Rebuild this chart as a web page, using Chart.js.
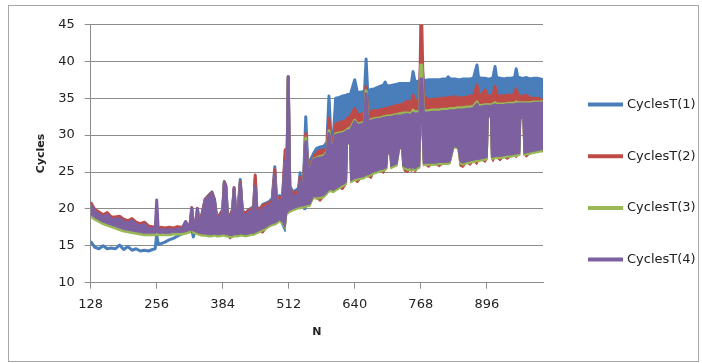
<!DOCTYPE html>
<html>
<head>
<meta charset="utf-8">
<title>CyclesT</title>
<script src="https://cdn.jsdelivr.net/npm/chart.js@4.4.1/dist/chart.umd.min.js"></script>
<style>
  html, body { margin: 0; padding: 0; background: #fff; }
  #wrap { position: relative; width: 702px; height: 363px; }
</style>
</head>
<body>
<div id="wrap"><canvas id="chart" width="702" height="363"></canvas></div>
<script>
/* === data === */
// N positions (denser around spikes and gaps)
const nValues = [
  128, 136, 144, 152, 160, 168, 176, 184, 192, 200,
  208, 216, 224, 232, 240, 248, 253, 256, 259, 264,
  272, 280, 288, 296, 304, 312, 320,
  324, 327, 331, 335, 338, 344, 350, 356, 363, 368,
  372, 378, 384, 387, 390, 393, 398, 403, 406, 409,
  414, 418, 422, 428, 434, 440, 444, 447, 450, 456,
  462, 468, 474, 480, 485, 488, 494, 500, 505, 508,
  511, 514, 520, 527, 531, 534, 537, 541, 545, 549,
  553, 560, 566, 573, 580, 586, 590, 594, 599, 603,
  610, 617, 624, 626, 630, 632, 640, 645, 652, 659, 662,
  665, 672, 676, 682, 689, 696, 699, 702, 704, 708, 710,
  715, 722, 727, 731, 733, 736, 743, 747, 750, 753, 757, 762,
  766, 768, 770, 773, 776, 783, 790, 797, 804, 811, 818,
  821, 825, 832, 835, 840, 844, 850, 857, 864, 870,
  877, 880, 886, 893, 897, 899, 903, 905, 908, 912, 915,
  922, 929, 936, 943, 950, 953, 956, 960, 962, 966, 968,
  973, 980, 987, 994, 1000, 1005
];

const seriesNames = ['CyclesT(1)', 'CyclesT(2)', 'CyclesT(3)', 'CyclesT(4)'];
const xTicks = [128, 256, 384, 512, 640, 768, 896];

// each series is shown as a band: upper edge (High) and lower edge (Low)
const t1High = [
  15.6, 14.8, 14.6, 15.0, 14.6, 14.7, 14.6, 15.1, 14.5, 14.9,
  14.4, 14.6, 14.3, 14.4, 14.3, 14.5, 14.6, 16.5, 15.2, 15.3,
  15.5, 15.8, 16.0, 16.3, 16.6, 16.8, 17.0,
  17.1, 16.2, 17.2, 17.3, 17.4, 19.4, 21.3, 21.8, 22.3, 21.3,
  19.0, 19.2, 19.9, 23.7, 23.2, 19.4, 19.1, 19.9, 22.9, 19.6,
  20.0, 24.0, 19.8, 19.4, 19.9, 20.1, 20.4, 24.2, 20.2, 20.0,
  20.6, 20.8, 21.0, 21.4, 25.7, 21.5, 21.8, 21.6, 27.0, 22.6,
  37.9, 23.1, 22.3, 22.6, 22.8, 24.9, 23.3, 24.5, 32.5, 26.0,
  26.5, 27.5, 28.2, 28.4, 28.5, 29.0, 35.3, 29.5, 30.5, 35.0,
  35.1, 35.3, 35.4, 35.5, 35.5, 35.6, 37.5, 35.8, 35.8, 36.0, 40.3,
  36.0, 36.2, 36.2, 36.4, 36.6, 36.8, 37.2, 36.7, 36.7, 36.7, 36.7,
  36.8, 36.9, 37.0, 37.0, 37.0, 37.0, 37.0, 37.0, 37.1, 38.6, 37.2, 37.3,
  37.3, 40.0, 40.0, 37.4, 37.4, 37.5, 37.5, 37.5, 37.5, 37.6, 37.6,
  37.9, 37.6, 37.6, 37.6, 37.5, 37.5, 37.6, 37.6, 37.6, 37.7,
  39.5, 37.8, 37.7, 37.7, 37.6, 37.6, 37.6, 37.7, 37.8, 39.3, 37.8,
  37.7, 37.6, 37.7, 37.7, 37.8, 39.0, 37.8, 37.8, 37.7, 37.7, 37.7,
  37.8, 37.6, 37.7, 37.7, 37.6, 37.5
];
const t1Low = [
  null, null, null, null, null, null, null, null, null, null,
  null, null, null, null, null, null, null, null, null, null,
  null, null, null, null, null, null, null,
  null, null, null, null, null, 16.9, 16.9, 16.8, 16.8, 16.9,
  16.8, 16.8, 16.9, 16.9, 16.8, 16.8, 16.7, 16.7, 16.8, 16.8,
  16.8, 16.9, 16.9, 16.8, 16.9, 17.0, 17.0, 17.1, 17.2, 17.4,
  17.6, 17.8, 18.1, 18.3, 18.4, 18.5, 18.8, 17.6, 16.9, 19.7,
  19.9, 20.1, 20.3, 20.5, 20.6, 20.6, 20.7, 19.9, 19.9, 20.9,
  20.9, 22.0, 21.9, 22.0, 22.1, 22.5, 22.9, 22.9, 22.8, 23.0,
  23.3, 23.6, 23.9, 29.0, 29.0, 24.1, 24.4, 24.5, 24.6, 24.7, 24.9,
  24.9, 25.1, 25.3, 25.4, 25.6, 25.7, 25.8, 25.9, 27.6, 27.6, 26.0,
  26.2, 26.4, 28.3, 28.3, 26.1, 26.0, 25.8, 25.9, 25.7, 25.9, 25.7, 26.0,
  26.1, 31.6, 31.6, 26.4, 26.5, 26.5, 26.5, 26.5, 26.6, 26.6, 26.6,
  26.6, 26.7, 28.6, 28.6, 28.5, 26.7, 26.5, 26.7, 26.8, 26.9,
  27.0, 27.0, 27.1, 27.2, 27.3, 32.6, 32.6, 27.3, 27.3, 27.4, 27.4,
  27.4, 27.5, 27.6, 27.6, 27.7, 27.7, 27.8, 27.8, 32.4, 32.4, 27.8,
  27.9, 28.0, 28.1, 28.2, 28.3, 28.3
];

const t2High = [
  20.9, 19.9, 19.6, 19.2, 19.5, 18.9, 18.9, 19.0, 18.6, 18.4,
  18.7, 18.2, 18.0, 18.2, 17.7, 17.6, 17.5, 17.9, 17.4, 17.5,
  17.4, 17.5, 17.4, 17.6, 17.5, 17.7, 17.6,
  20.2, 17.8, 17.9, 20.1, 18.2, 19.3, 21.3, 21.7, 22.2, 21.2,
  18.9, 19.1, 19.8, 23.6, 23.1, 19.3, 19.0, 19.8, 22.8, 19.5,
  19.9, 23.6, 19.7, 19.3, 19.8, 20.0, 20.3, 24.6, 20.1, 19.9,
  20.5, 20.6, 20.8, 21.1, 25.3, 21.3, 21.6, 21.4, 28.0, 22.4,
  37.9, 22.9, 22.0, 22.3, 22.4, 24.3, 23.0, 24.0, 30.2, 25.5,
  25.8, 26.9, 27.6, 27.9, 27.9, 28.3, 32.3, 28.8, 29.5, 31.5,
  31.7, 31.8, 32.0, 32.3, 32.4, 32.6, 33.6, 32.8, 32.8, 33.0, 36.6,
  33.1, 33.2, 33.3, 33.3, 33.4, 33.5, 33.6, 33.6, 33.7, 33.7, 33.7,
  33.9, 34.0, 34.1, 34.1, 34.2, 34.3, 34.6, 34.3, 34.4, 35.4, 34.6, 34.7,
  34.8, 45.0, 45.0, 34.8, 35.1, 34.8, 34.8, 34.9, 34.9, 35.0, 35.0,
  35.1, 35.0, 35.2, 35.2, 35.0, 35.0, 35.1, 35.1, 35.3, 35.2,
  36.8, 35.4, 35.5, 36.1, 35.4, 35.2, 35.2, 35.3, 35.4, 36.6, 35.4,
  35.3, 35.3, 35.4, 35.4, 35.5, 36.3, 35.5, 35.3, 35.2, 35.2, 35.3,
  35.4, 35.0, 35.0, 35.0, 34.8, 34.8
];
const t2Low = [
  null, null, null, null, null, null, null, null, null, null,
  null, null, null, null, null, null, null, null, null, null,
  null, null, null, null, null, null, null,
  16.9, 16.8, 16.7, 16.6, 16.5, 16.4, 16.4, 16.3, 16.3, 16.4,
  16.3, 16.3, 16.4, 16.4, 16.3, 16.3, 15.9, 16.2, 16.3, 16.3,
  16.3, 16.4, 16.4, 16.3, 16.4, 16.5, 16.5, 16.6, 16.7, 16.9,
  16.7, 17.3, 17.6, 17.8, 17.9, 18.0, 18.3, 18.0, 17.4, 19.2,
  19.4, 19.6, 19.8, 20.0, 20.1, 20.1, 20.2, 20.2, 20.3, 20.4,
  20.4, 21.5, 21.4, 21.0, 21.6, 22.0, 22.4, 22.4, 22.3, 22.5,
  22.8, 22.6, 23.4, 28.8, 28.8, 23.6, 23.9, 23.5, 24.1, 24.2, 24.4,
  24.4, 24.1, 24.8, 24.9, 25.1, 24.8, 25.3, 25.4, 27.4, 27.4, 25.5,
  25.7, 25.9, 28.1, 28.1, 25.9, 25.1, 24.9, 25.4, 25.0, 25.4, 24.9, 25.5,
  25.6, 31.3, 31.3, 25.9, 26.0, 25.6, 26.0, 26.0, 25.7, 26.1, 26.1,
  26.1, 26.2, 28.3, 28.3, 28.2, 25.8, 25.6, 26.2, 25.9, 26.4,
  26.0, 26.5, 26.6, 26.3, 26.8, 32.4, 32.4, 26.8, 26.4, 26.9, 26.9,
  26.5, 27.0, 26.7, 27.1, 27.2, 26.9, 27.3, 27.3, 32.2, 32.2, 27.3,
  27.0, 27.5, 27.6, 27.7, 27.8, 27.8
];

const t3High = [
  19.0, 18.6, 18.3, 18.0, 17.8, 17.6, 17.4, 17.2, 17.0, 16.9,
  16.8, 16.7, 16.6, 16.5, 16.5, 16.5, 16.5, 16.6, 16.5, 16.5,
  16.5, 16.5, 16.6, 16.6, 16.6, 16.7, 16.9,
  19.8, 17.4, 17.5, 19.7, 17.7, 18.7, 20.9, 21.2, 21.8, 20.7,
  18.3, 18.6, 19.2, 23.1, 22.7, 18.7, 18.4, 19.2, 22.3, 18.9,
  19.3, 23.0, 19.1, 18.7, 19.2, 19.4, 19.7, 22.8, 19.5, 19.3,
  19.7, 20.0, 20.1, 20.5, 24.3, 20.7, 20.9, 20.7, 26.3, 21.7,
  37.6, 22.2, 21.3, 21.5, 21.7, 23.6, 22.2, 23.2, 29.6, 24.7,
  25.3, 26.7, 26.9, 27.1, 27.2, 27.7, 30.6, 28.3, 28.9, 30.2,
  30.3, 30.4, 30.6, 30.8, 30.9, 31.0, 32.0, 31.5, 31.6, 31.8, 36.0,
  32.0, 32.1, 32.2, 32.3, 32.3, 32.5, 32.5, 32.6, 32.6, 32.6, 32.6,
  32.7, 32.8, 32.9, 32.9, 33.0, 33.0, 33.0, 32.9, 33.0, 33.4, 33.1, 33.2,
  33.2, 39.5, 39.5, 33.3, 33.3, 33.3, 33.4, 33.4, 33.4, 33.5, 33.5,
  33.5, 33.6, 33.6, 33.6, 33.7, 33.7, 33.7, 33.8, 33.8, 33.9,
  34.5, 34.0, 34.0, 34.1, 34.1, 34.1, 34.1, 34.1, 34.2, 34.4, 34.2,
  34.2, 34.2, 34.3, 34.3, 34.3, 34.5, 34.4, 34.4, 34.4, 34.4, 34.4,
  34.4, 34.4, 34.5, 34.5, 34.5, 34.6
];
const t3Low = [
  null, null, null, null, null, null, null, null, null, null,
  null, null, null, null, null, null, null, null, null, null,
  null, null, null, null, null, null, null,
  16.8, 16.7, 16.6, 16.5, 16.4, 16.3, 16.3, 16.2, 16.2, 16.3,
  16.2, 16.2, 16.3, 16.3, 16.2, 16.2, 16.1, 16.1, 16.2, 16.2,
  16.2, 16.3, 16.3, 16.2, 16.3, 16.4, 16.4, 16.5, 16.6, 16.8,
  17.0, 17.2, 17.5, 17.7, 17.8, 17.9, 18.2, 17.9, 17.3, 19.1,
  19.3, 19.5, 19.7, 19.9, 20.0, 20.0, 20.1, 20.1, 20.2, 20.3,
  20.3, 21.4, 21.3, 21.4, 21.5, 21.9, 22.3, 22.3, 22.2, 22.4,
  22.7, 23.0, 23.3, 28.8, 28.8, 23.5, 23.8, 23.9, 24.0, 24.1, 24.3,
  24.3, 24.5, 24.7, 24.8, 25.0, 25.1, 25.2, 25.3, 27.4, 27.4, 25.4,
  25.6, 25.8, 28.1, 28.1, 25.5, 25.4, 25.2, 25.3, 25.1, 25.3, 25.1, 25.4,
  25.5, 31.2, 31.2, 25.8, 25.9, 25.9, 25.9, 25.9, 26.0, 26.0, 26.0,
  26.0, 26.1, 28.2, 28.2, 28.1, 26.1, 25.9, 26.1, 26.2, 26.3,
  26.4, 26.4, 26.5, 26.6, 26.7, 32.4, 32.4, 26.7, 26.7, 26.8, 26.8,
  26.8, 26.9, 27.0, 27.0, 27.1, 27.1, 27.2, 27.2, 32.2, 32.2, 27.2,
  27.3, 27.4, 27.5, 27.6, 27.7, 27.7
];

const t4High = [
  20.6, 19.6, 19.3, 18.9, 19.2, 18.6, 18.6, 18.7, 18.3, 18.1,
  18.4, 17.9, 17.7, 17.9, 17.4, 17.3, 17.2, 21.2, 17.1, 17.2,
  17.1, 17.2, 17.1, 17.3, 17.2, 18.3, 17.3,
  20.1, 17.6, 17.8, 20.0, 18.0, 19.0, 21.2, 21.5, 22.1, 21.0,
  18.6, 18.9, 19.5, 23.4, 23.0, 19.0, 18.7, 19.5, 22.6, 19.2,
  19.6, 23.3, 19.4, 19.0, 19.5, 19.7, 20.0, 23.0, 19.8, 19.6,
  20.0, 20.3, 20.4, 20.8, 24.5, 21.0, 21.2, 21.0, 26.5, 22.0,
  37.9, 22.5, 21.6, 21.8, 22.0, 23.9, 22.5, 23.5, 29.1, 25.0,
  25.2, 26.6, 26.8, 26.9, 27.0, 27.5, 30.2, 28.2, 28.8, 30.0,
  30.1, 30.2, 30.4, 30.6, 30.6, 30.7, 31.8, 31.3, 31.4, 31.6, 35.6,
  31.8, 31.9, 32.0, 32.1, 32.1, 32.3, 32.3, 32.4, 32.4, 32.4, 32.4,
  32.5, 32.6, 32.6, 32.6, 32.7, 32.7, 32.8, 32.6, 32.7, 33.0, 32.8, 32.9,
  32.9, 37.6, 37.6, 33.0, 33.0, 33.0, 33.1, 33.1, 33.1, 33.2, 33.2,
  33.2, 33.3, 33.3, 33.3, 33.4, 33.4, 33.4, 33.5, 33.5, 33.6,
  34.2, 33.7, 33.8, 33.9, 33.9, 33.9, 33.9, 33.9, 34.0, 34.1, 34.0,
  34.0, 34.0, 34.1, 34.1, 34.1, 34.2, 34.2, 34.2, 34.2, 34.2, 34.2,
  34.2, 34.2, 34.3, 34.3, 34.3, 34.4
];
const t4Low = [
  19.2, 18.8, 18.5, 18.2, 18.0, 17.8, 17.6, 17.4, 17.2, 17.1,
  17.0, 16.9, 16.8, 16.7, 16.7, 16.7, 16.7, 16.8, 16.7, 16.7,
  16.7, 16.7, 16.8, 16.8, 16.8, 16.9, 17.1,
  17.1, 17.0, 16.9, 16.8, 16.7, 16.6, 16.6, 16.5, 16.5, 16.6,
  16.5, 16.5, 16.6, 16.6, 16.5, 16.5, 16.4, 16.4, 16.5, 16.5,
  16.5, 16.6, 16.6, 16.5, 16.6, 16.7, 16.7, 16.8, 16.9, 17.1,
  17.3, 17.5, 17.8, 18.0, 18.1, 18.2, 18.5, 18.2, 17.5, 19.4,
  19.6, 19.8, 20.0, 20.2, 20.3, 20.3, 20.4, 20.4, 20.5, 20.6,
  20.6, 21.7, 21.6, 21.7, 21.8, 22.2, 22.6, 22.6, 22.5, 22.7,
  23.0, 23.3, 23.6, 28.9, 28.9, 23.8, 24.1, 24.2, 24.3, 24.4, 24.6,
  24.6, 24.8, 25.0, 25.1, 25.3, 25.4, 25.5, 25.6, 27.5, 27.5, 25.7,
  25.9, 26.1, 28.2, 28.2, 25.8, 25.7, 25.5, 25.6, 25.4, 25.6, 25.4, 25.7,
  25.8, 31.4, 31.4, 26.1, 26.2, 26.2, 26.2, 26.2, 26.3, 26.3, 26.3,
  26.3, 26.4, 28.4, 28.4, 28.3, 26.4, 26.2, 26.4, 26.5, 26.6,
  26.7, 26.7, 26.8, 26.9, 27.0, 32.5, 32.5, 27.0, 27.0, 27.1, 27.1,
  27.1, 27.2, 27.3, 27.3, 27.4, 27.4, 27.5, 27.5, 32.3, 32.3, 27.5,
  27.6, 27.7, 27.8, 27.9, 28.0, 28.0
];

/* === build chart === */
const colors = ['#4a7ebb', '#be4b48', '#98b954', '#7d60a0'];
const highs = [t1High, t2High, t3High, t4High];
const lows = [t1Low, t2Low, t3Low, t4Low];

highs.concat(lows).forEach((arr, i) => {
  if (arr.length !== nValues.length) {
    throw new Error('series array ' + i + ' has ' + arr.length + ' values, expected ' + nValues.length);
  }
});

const toPoints = arr => arr.map((v, i) => ({ x: nValues[i], y: v }));

const datasets = [];
seriesNames.forEach((name, k) => {
  // last series drawn on top (lower order = drawn later)
  datasets.push({
    label: name,
    data: toPoints(highs[k]),
    borderColor: colors[k],
    backgroundColor: colors[k],
    borderWidth: 3,
    borderJoinStyle: 'round',
    pointRadius: 0,
    fill: false,
    order: 3 - k
  });
  datasets.push({
    label: name + ' low',
    data: toPoints(lows[k]),
    borderColor: colors[k],
    backgroundColor: colors[k],
    borderWidth: 1,
    borderJoinStyle: 'round',
    pointRadius: 0,
    fill: '-1',
    order: 3 - k
  });
});

const axisFont = { family: 'DejaVu Sans', size: 13 };
const titleFont = { family: 'DejaVu Sans', size: 11, weight: 'bold' };
const lineGray = '#8c8c8c';
const textColor = '#222';

// outer frame like the spreadsheet chart border
const frame = {
  id: 'frame',
  beforeDraw(chart) {
    const ctx = chart.ctx;
    ctx.save();
    ctx.fillStyle = '#fff';
    ctx.fillRect(0, 0, chart.width, chart.height);
    ctx.strokeStyle = '#a6a6a6';
    ctx.lineWidth = 1;
    ctx.strokeRect(8.5, 5.5, 690, 356);
    ctx.restore();
  }
};

// legend on the right, one entry per series
const sideLegend = {
  id: 'sideLegend',
  afterDraw(chart) {
    const ctx = chart.ctx;
    ctx.save();
    ctx.font = '13px "DejaVu Sans"';
    ctx.textBaseline = 'middle';
    ctx.textAlign = 'left';
    seriesNames.forEach((name, k) => {
      const y = 104.5 + k * 51.7;
      ctx.strokeStyle = colors[k];
      ctx.lineWidth = 4;
      ctx.beginPath();
      ctx.moveTo(588, y);
      ctx.lineTo(623, y);
      ctx.stroke();
      ctx.fillStyle = textColor;
      ctx.fillText(name, 627, y);
    });
    ctx.restore();
  }
};

new Chart(document.getElementById('chart'), {
  type: 'line',
  data: { datasets },
  options: {
    responsive: false,
    animation: false,
    layout: { padding: { left: 0, top: 24.4, right: 159, bottom: 0 } },
    plugins: {
      legend: { display: false },
      tooltip: { enabled: false }
    },
    scales: {
      x: {
        type: 'linear',
        min: 128,
        max: 1005,
        afterBuildTicks: axis => { axis.ticks = xTicks.map(v => ({ value: v })); },
        afterFit: axis => { axis.height = 80.3; },
        ticks: { color: textColor, font: axisFont, padding: 8, autoSkip: false, maxRotation: 0 },
        grid: { drawOnChartArea: false, color: lineGray, tickLength: 6 },
        border: { color: lineGray },
        title: { display: true, text: 'N', color: textColor, font: titleFont, padding: { top: 0, bottom: 24 } }
      },
      y: {
        min: 10,
        max: 45,
        afterFit: axis => { axis.width = 90.7; },
        ticks: { stepSize: 5, color: textColor, font: axisFont, padding: 10 },
        grid: { color: lineGray, tickLength: 6 },
        border: { color: lineGray },
        title: { display: true, text: 'Cycles', color: textColor, font: titleFont, padding: { top: 35, bottom: 0 } }
      }
    }
  },
  plugins: [frame, sideLegend]
});
</script>
</body>
</html>
